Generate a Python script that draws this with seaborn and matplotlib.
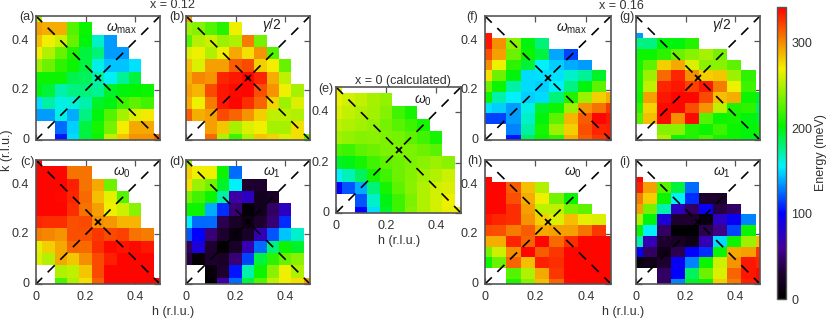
import numpy as np
import pandas as pd
import seaborn as sns
import matplotlib

matplotlib.use("Agg")
import matplotlib.pyplot as plt
from matplotlib.colors import LinearSegmentedColormap

n = np.nan

# every panel is listed from k = 0 (first row) upward, h = 0 at the left
# x = 0.12
omega_max_12 = [
    [n, n, 105, 150, 190, 205, 255, 282, 298, 298, 310],
    [n, n, 125, 148, 190, 208, 235, 270, 292, 292],
    [135, 135, 160, 140, 178, 200, 225, 248, 262, 272],
    [150, 172, 160, 162, 170, 195, 198, 218, 228, 220],
    [200, 192, 170, 178, 180, 175, 195, 200, 202, 205],
    [205, 205, 205, 188, 185, 170, 157, 175, 190],
    [245, 232, 215, 205, 190, 160, 145, 145, 152],
    [270, 250, 230, 210, 190, 180, 135, 135],
    [285, 268, 258, 230, 200, 165, 135],
    [295, 290, 290, 225, 205],
    [250],
]
gamma_12 = [
    [n, n, 310, 250, 218, 250, 282, 278, 262, 275, 230],
    [n, n, 295, 282, 248, 262, 268, 248, 248, 275],
    [315, 290, 295, 320, 312, 298, 280, 255, 255, 250],
    [290, 268, 305, 335, 340, 328, 312, 278, 245, 262],
    [295, 288, 320, 335, 338, 340, 318, 298, 268, 248],
    [290, 302, 298, 330, 335, 340, 330, 290, 255],
    [285, 262, 295, 295, 315, 320, 280, 270, 230],
    [262, 268, 250, 268, 292, 275, 298, 225],
    [225, 252, 258, 245, 250, 305, 235],
    [245, 238, 225, 212, 268],
    [295],
]
omega_0_12 = [
    [n, n, 222, 250, 275, 315, 340, 340, 340, 340, 340],
    [n, n, 250, 255, 282, 320, 340, 340, 340, 340],
    [262, 252, 292, 282, 300, 320, 332, 340, 340, 340],
    [265, 280, 292, 312, 310, 328, 338, 336, 338, 334],
    [305, 303, 298, 318, 318, 325, 320, 322, 308, 305],
    [330, 328, 328, 318, 320, 300, 297, 288, 288],
    [340, 340, 340, 328, 308, 295, 268, 258, 240],
    [340, 340, 338, 330, 310, 285, 265, 225],
    [340, 340, 340, 332, 308, 292, 232],
    [340, 340, 340, 308, 308],
    [340],
]
omega_1_12 = [
    [n, n, 0, 65, 125, 190, 225, 255, 268, 275, 295],
    [n, n, 8, 30, 105, 170, 205, 240, 268, 250],
    [35, 5, 30, 25, 50, 115, 190, 215, 230, 240],
    [45, 85, 30, 2, 25, 70, 125, 180, 205, 195],
    [120, 100, 50, 30, 10, 25, 70, 120, 145, 165],
    [155, 125, 125, 40, 25, 15, 30, 50, 110],
    [205, 205, 140, 110, 50, 5, 20, 45, 75],
    [235, 220, 205, 172, 65, 75, 20, 25],
    [275, 245, 235, 195, 155, 30, 30],
    [280, 268, 268, 205, 125],
    [245],
]

# x = 0 (calculated)
omega_0_calc = [
    [n, n, 100, 150, 195, 218, 238, 250, 260, 266, 272],
    [n, n, 120, 165, 198, 218, 236, 250, 260, 268],
    [100, 120, 140, 180, 208, 228, 240, 250, 260, 262],
    [155, 168, 185, 208, 220, 232, 238, 246, 252, 258],
    [195, 198, 208, 220, 228, 232, 236, 240, 245, 240],
    [222, 218, 228, 232, 236, 236, 236, 232, 226],
    [246, 242, 238, 240, 236, 234, 228, 220, 208],
    [254, 250, 246, 242, 234, 226, 218, 208],
    [262, 256, 250, 246, 238, 220, 208],
    [266, 260, 256, 248, 242],
    [268],
]

# x = 0.16
omega_max_16 = [
    [n, n, 105, 185, 205, 215, 290, 315, 325, 335],
    [n, n, 130, 172, 208, 245, 280, 318, 330, 332],
    [115, 115, 135, 165, 200, 228, 288, 315, 340, 335],
    [152, 148, 135, 160, 195, 205, 245, 298, 308, 325],
    [205, 170, 155, 148, 150, 180, 210, 245, 280, 290],
    [230, 205, 172, 150, 148, 155, 178, 200, 228],
    [275, 232, 200, 150, 152, 152, 165, 175, 195],
    [300, 268, 215, 192, 155, 148, 140, 135],
    [318, 295, 232, 205, 190, 138, 115],
    [335, 300, 240, 200, 180],
    [335],
]
gamma_16 = [
    [n, n, 250, 205, 210, 222, 208, 205, 200, 200],
    [n, n, 238, 240, 212, 205, 218, 205, 200, 205],
    [225, 285, 338, 300, 338, 225, 205, 208, 200, 195],
    [215, 278, 338, 340, 318, 298, 255, 210, 215, 185],
    [205, 295, 335, 340, 340, 320, 285, 290, 205, 195],
    [208, 255, 330, 335, 322, 335, 305, 268, 218],
    [210, 245, 310, 330, 300, 280, 282, 245, 215],
    [208, 228, 280, 292, 262, 240, 240, 228],
    [205, 205, 215, 232, 240, 248, 235],
    [178, 178, 200, 200, 212],
    [135],
]
omega_0_16 = [
    [n, n, 210, 240, 285, 312, 338, 340, 340, 340],
    [n, n, 225, 250, 292, 325, 340, 340, 340, 340],
    [205, 232, 312, 285, 332, 328, 340, 340, 340, 340],
    [235, 258, 300, 340, 315, 325, 340, 340, 340, 340],
    [290, 290, 330, 312, 340, 310, 328, 340, 340, 340],
    [320, 318, 305, 315, 292, 295, 295, 308, 325],
    [335, 330, 328, 298, 280, 262, 285, 265, 262],
    [340, 340, 328, 295, 255, 255, 235, 228],
    [340, 340, 318, 290, 268, 235, 205],
    [340, 340, 315, 285, 250],
    [340],
]
omega_1_16 = [
    [n, n, 45, 130, 195, 205, 280, 305, 332, 340],
    [n, n, 45, 100, 185, 232, 262, 312, 335, 338],
    [10, 15, 30, 95, 130, 205, 258, 298, 335, 330],
    [95, 45, 15, 40, 100, 110, 205, 292, 295, 325],
    [170, 70, 30, 25, 15, 70, 150, 205, 245, 285],
    [205, 155, 45, 2, 2, 40, 55, 115, 205],
    [250, 200, 85, 30, 30, 10, 75, 95, 130],
    [295, 235, 170, 75, 45, 95, 35, 45],
    [305, 280, 205, 155, 110, 30, 28],
    [332, 295, 225, 190, 125],
    [340],
]

h_ticks = [0, 0.2, 0.4]
k_ticks = [0, 0.2, 0.4]
cbar_ticks = [0, 100, 200, 300]
energy_max = 342

# grid steps of the scans in r.l.u.
step_12 = (0.05, 0.05)
step_16 = (0.0567, 0.0432)

FIG_W, FIG_H = 830, 320
GREY = "#555555"
TEXT = "#333333"

sns.set_theme(style="white")
plt.rcParams["font.family"] = ["Liberation Sans", "DejaVu Sans"]
plt.rcParams["mathtext.fontset"] = "custom"
plt.rcParams["mathtext.rm"] = "Liberation Sans"
plt.rcParams["mathtext.it"] = "Liberation Sans:italic"

cmap = LinearSegmentedColormap.from_list(
    "energy",
    [
        (0 / energy_max, "#000000"),
        (30 / energy_max, "#1e0030"),
        (60 / energy_max, "#46009a"),
        (100 / energy_max, "#0000ff"),
        (155 / energy_max, "#00f0ff"),
        (202 / energy_max, "#00f400"),
        (270 / energy_max, "#f4f000"),
        (300 / energy_max, "#f59000"),
        (1, "#ff0000"),
    ],
)


def half_cells(rows):
    # scans are centred on the grid, so the first and last rows and the first
    # column only show half a cell: split cells in two and drop the outer halves
    width = max(len(r) for r in rows)
    arr = np.array([list(r) + [n] * (width - len(r)) for r in rows], dtype=float)
    arr = np.repeat(np.repeat(arr, 2, axis=0), 2, axis=1)
    return pd.DataFrame(arr[1:-1, 1:])


def px_axes(fig, x0, y0, x1, y1):
    return fig.add_axes([x0 / FIG_W, 1 - y1 / FIG_H, (x1 - x0) / FIG_W, (y1 - y0) / FIG_H])


def px_text(fig, x, y, s, **kw):
    kw.setdefault("ha", "center")
    kw.setdefault("va", "center")
    kw.setdefault("fontsize", 9)
    kw.setdefault("color", TEXT)
    fig.text(x / FIG_W, 1 - y / FIG_H, s, **kw)


def draw_panel(fig, box, rows, step, xlabels=False, ylabels=False):
    ax = px_axes(fig, *box)
    sns.heatmap(half_cells(rows), ax=ax, cmap=cmap, vmin=0, vmax=energy_max, cbar=False)
    hs, ks = step[0] / 2, step[1] / 2
    ax.set_xlim(0, 0.5 / hs)
    ax.set_ylim(0, 0.5 / ks)
    ax.set_xticks([t / hs for t in h_ticks])
    ax.set_yticks([t / ks for t in k_ticks])
    ax.set_xticklabels([f"{t:g}" for t in h_ticks] if xlabels else [], rotation=0)
    ax.set_yticklabels([f"{t:g}" for t in k_ticks] if ylabels else [], rotation=0)
    ax.set_xlabel("")
    ax.set_ylabel("")
    ax.tick_params(direction="in", length=4, width=0.9, color=GREY, labelcolor=TEXT,
                   labelsize=9, top=True, right=True, bottom=True, left=True, pad=5)
    for s in ax.spines.values():
        s.set_visible(True)
        s.set_color(GREY)
        s.set_linewidth(1.2)
    # dashes run out from the centre, starting in a gap so the cross stays clear
    dash = dict(color="black", lw=1.2, linestyle=(6, (6, 4.67)), transform=ax.transAxes)
    for cx, cy in [(0, 0), (1, 1), (0, 1), (1, 0)]:
        ax.plot([0.5, cx], [0.5, cy], **dash)
    ax.plot([0.5], [0.5], marker="x", ms=5, mew=1.3, color="black", transform=ax.transAxes)
    return ax


fig = plt.figure(figsize=(FIG_W / 100, FIG_H / 100), dpi=100)

draw_panel(fig, (36, 16, 160, 140), omega_max_12, step_12, ylabels=True)
draw_panel(fig, (186, 16, 310, 140), gamma_12, step_12)
draw_panel(fig, (36, 160, 160, 284), omega_0_12, step_12, xlabels=True, ylabels=True)
draw_panel(fig, (186, 160, 310, 284), omega_1_12, step_12, xlabels=True)
draw_panel(fig, (336, 87, 461, 213), omega_0_calc, step_12, xlabels=True, ylabels=True)
draw_panel(fig, (485, 16, 611, 140), omega_max_16, step_16, ylabels=True)
draw_panel(fig, (636, 16, 760, 140), gamma_16, step_16)
draw_panel(fig, (485, 160, 611, 284), omega_0_16, step_16, xlabels=True, ylabels=True)
draw_panel(fig, (636, 160, 760, 284), omega_1_16, step_16, xlabels=True)

for x, y, s in [(27, 17, "(a)"), (177, 17, "(b)"), (27, 162, "(c)"), (177, 162, "(d)"),
                (326, 89, "(e)"), (472, 17, "(f)"), (627, 17, "(g)"), (475, 161, "(h)"),
                (625, 162, "(i)")]:
    px_text(fig, x, y, s)

W_MAX = r"$\mathit{\omega}_{\mathrm{max}}$"
W_0 = r"$\mathit{\omega}_{0}$"
W_1 = r"$\mathit{\omega}_{1}$"
GAM = r"$\mathit{\gamma}$/2"
for x, y, s in [(122, 29, W_MAX), (272, 25, GAM), (122, 173, W_0), (272, 173, W_1),
                (423, 101, W_0), (572, 29, W_MAX), (722, 25, GAM), (573, 173, W_0),
                (722, 173, W_1)]:
    px_text(fig, x, y, s, color="#222222", fontsize=10)

px_text(fig, 172, 5, "x = 0.12")
px_text(fig, 621, 6, "x = 0.16")
px_text(fig, 403, 81, "x = 0 (calculated)")
px_text(fig, 7, 150, "k (r.l.u.)", rotation=90)
px_text(fig, 173, 312, "h (r.l.u.)")
px_text(fig, 399, 241, "h (r.l.u.)")
px_text(fig, 623, 312, "h (r.l.u.)")

cax = px_axes(fig, 777, 7, 786, 299)
sm = plt.cm.ScalarMappable(cmap=cmap, norm=plt.Normalize(0, energy_max))
cb = fig.colorbar(sm, cax=cax)
cb.set_ticks(cbar_ticks)
cb.ax.tick_params(direction="in", length=2, width=0.8, color=GREY, labelcolor=TEXT, labelsize=9, pad=4, right=True)
cb.outline.set_edgecolor(GREY)
cb.outline.set_linewidth(1.0)
px_text(fig, 821, 153, "Energy (meV)", rotation=90)

fig.savefig("out.png", dpi=100)
